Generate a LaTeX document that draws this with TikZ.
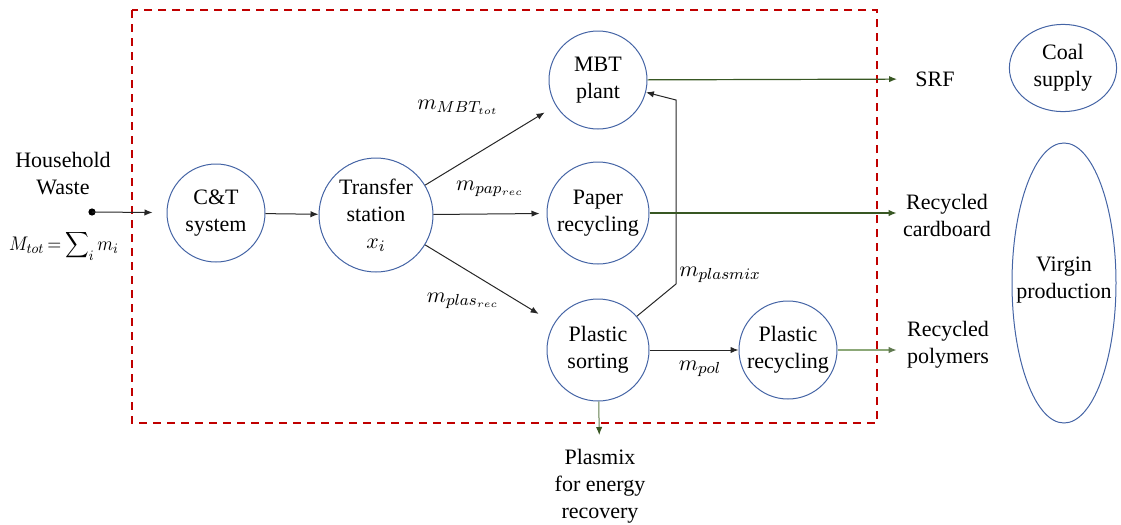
\documentclass[tikz,border=0pt]{standalone}
\usepackage{fontspec}
\setmainfont{Liberation Serif}
\usetikzlibrary{arrows.meta,shapes.geometric}
\definecolor{cblue}{RGB}{68,100,165}
\definecolor{dgreen}{RGB}{56,87,35}
\definecolor{lgreen}{RGB}{140,168,120}
\definecolor{mgreen}{RGB}{95,125,75}
\definecolor{dred}{RGB}{192,0,0}
\begin{document}
\begin{tikzpicture}[x=0.5pt,y=-0.5pt,
  every node/.style={font=\rmfamily\fontsize{11}{13.5}\selectfont},
  proc/.style={circle,draw=cblue,line width=0.5pt,inner sep=0pt,align=center},
  ellbord/.style={draw=cblue,line width=0.5pt},
  txt/.style={align=center,inner sep=1pt},
  flow/.style={draw=black!85,line width=0.5pt,-{Latex[length=4pt,width=3.2pt]}},
  gflow/.style={draw=dgreen,line width=0.6pt,-{Latex[length=4pt,width=3.2pt]}},
  lflow/.style={draw=lgreen,line width=0.6pt,-{Latex[length=4pt,width=3.2pt,color=dgreen!80,fill=dgreen!80]}},
  mflow/.style={draw=mgreen,line width=0.5pt,-{Latex[length=4pt,width=3.2pt,color=dgreen,fill=dgreen]}},
  lbl/.style={inner sep=0pt}]
\useasboundingbox (0,0) rectangle (1121,525);
% system boundary
\draw[dred,line width=0.8pt,dash pattern=on 4pt off 3pt] (132,10) rectangle (877,423);
% process nodes
\node[proc,minimum size=49pt] (ct) at (216,213) {C\&T\\system};
\node[proc,minimum size=57pt] (ts) at (376,215) {Transfer\\station\\$x_i$};
\node[proc,minimum size=49pt] (mbt) at (598,80) {MBT\\plant};
\node[proc,minimum size=51pt] (pr) at (598,213) {Paper\\recycling};
\node[proc,minimum size=51pt] (ps) at (598,350) {Plastic\\sorting};
\node[proc,minimum size=49pt] (plr) at (788,350) {Plastic\\recycling};
\node[txt] (coal) at (1063,68) {Coal\\supply};
\draw[ellbord] (coal.center) ellipse [x radius=26.8pt, y radius=21.8pt];
\node[txt] (virgin) at (1064,280) {Virgin\\production};
\draw[ellbord] (1064,283) ellipse [x radius=26pt, y radius=70pt];
% text nodes
\node[txt] (hwtxt) at (63,174) {Household\\Waste};
\node[lbl] (mtot) at (64,246) {\scalebox{0.82}[0.9]{$M_{tot}\mkern-2mu=\mkern-1mu\displaystyle\sum\nolimits_i m_i$}};
\node[txt] (srf) at (935,79) {SRF};
\node[txt] (rc) at (947,215) {Recycled\\cardboard};
\node[txt] (rp) at (948,345) {Recycled\\polymers};
\node[txt,anchor=north] (pm) at (600,447) {Plasmix\\for energy\\recovery};
% coordinates
\coordinate (hw) at (92,212);
\coordinate (k1) at (676,284);
\coordinate (k2) at (676,100);
% connectors
\fill (hw) circle (1.8pt);
\draw[flow,shorten >=7pt] (hw) -- (ct);
\draw[flow] (ct) -- (ts);
\draw[flow,shorten >=6.5pt] (ts) -- (mbt);
\draw[flow,shorten >=3.5pt] (ts) -- (pr);
\draw[flow,shorten >=9pt] (ts) -- (ps);
\draw[flow] (ps.41) -- (k1) -- (k2) -- (mbt);
\draw[flow] (ps) -- (plr);
\draw[gflow,shorten >=8pt] (mbt) -- (srf);
\draw[gflow,shorten >=2pt] (pr) -- (rc.west |- pr);
\draw[lflow,shorten >=4pt] (plr) -- (rp.west |- plr);
\draw[mflow,shorten >=6pt] (ps) -- (pm);
% flow labels
\node[lbl] (l1) at (458,107) {$m_{MBT_{tot}}$};
\node[lbl] (l2) at (490,189) {$m_{pap_{rec}}$};
\node[lbl] (l3) at (463,301) {$m_{plas_{rec}}$};
\node[lbl] (l4) at (720,275) {$m_{plasmix}$};
\node[lbl] (l5) at (700,369) {$m_{pol}$};
\end{tikzpicture}
\end{document}
